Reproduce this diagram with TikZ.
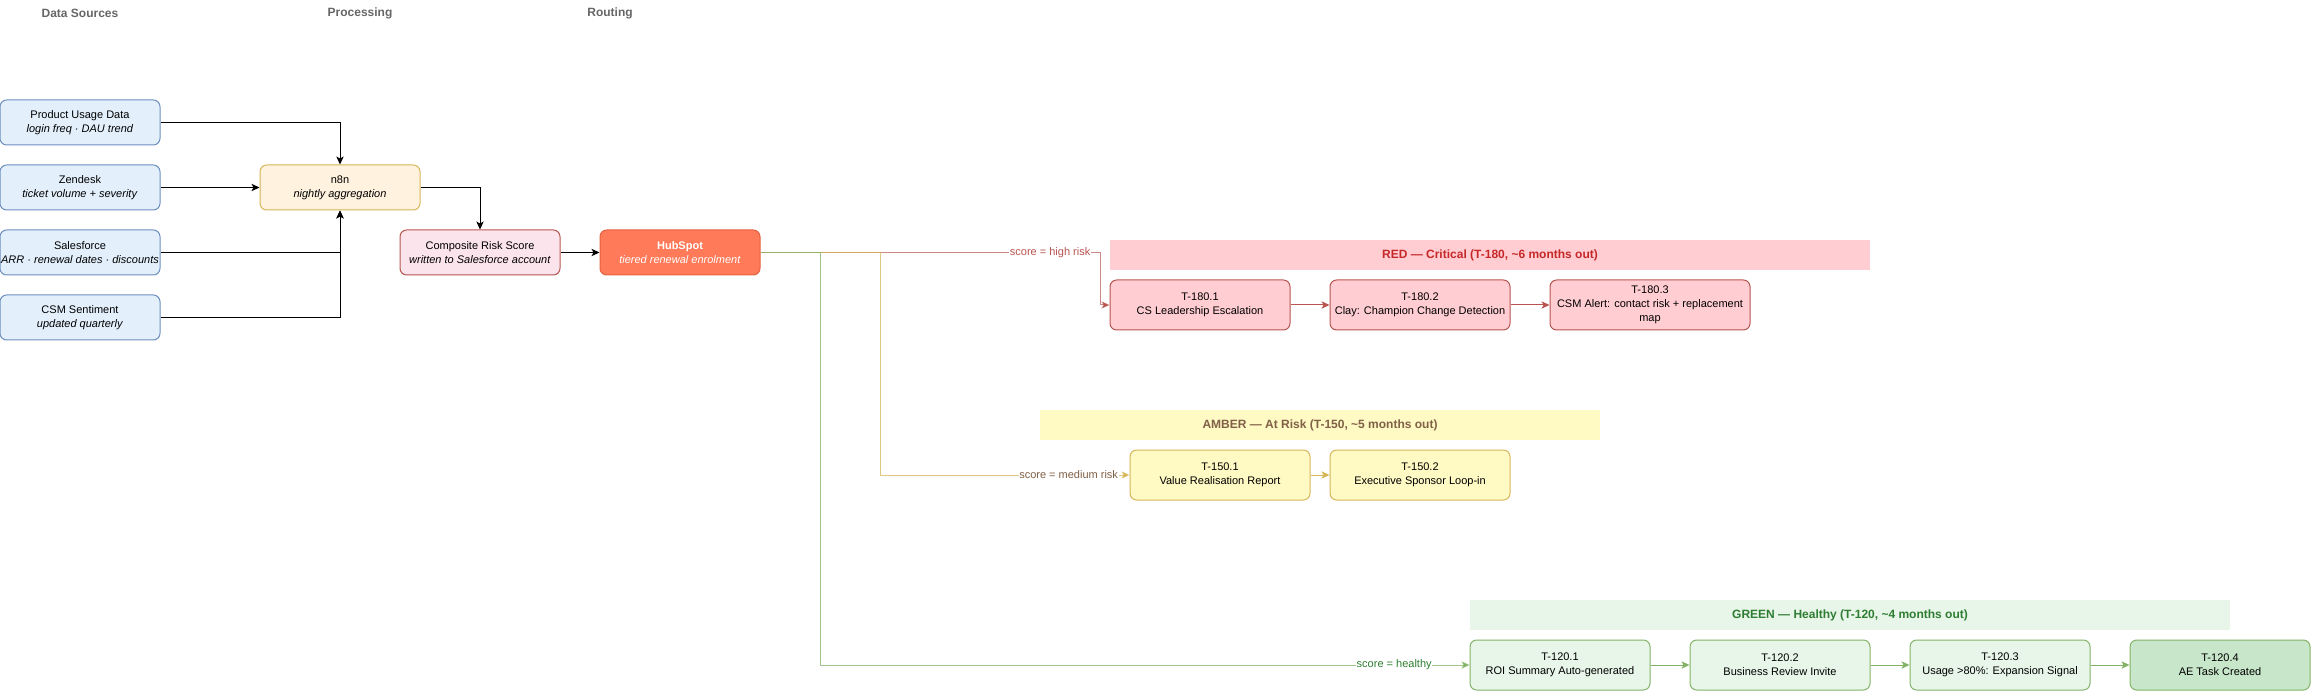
\documentclass[tikz,border=0pt]{standalone}
\usepackage{fontspec}
\setmainfont{Liberation Sans}
\usetikzlibrary{arrows.meta}

\definecolor{srcfill}{RGB}{227,240,252}
\definecolor{srcline}{RGB}{108,142,191}
\definecolor{procfill}{RGB}{255,242,222}
\definecolor{procline}{RGB}{214,182,86}
\definecolor{riskfill}{RGB}{252,228,236}
\definecolor{riskline}{RGB}{184,84,80}
\definecolor{hubfill}{RGB}{255,122,89}
\definecolor{hubline}{RGB}{230,98,62}
\definecolor{redfill}{RGB}{255,205,210}
\definecolor{redtext}{RGB}{198,40,40}
\definecolor{redline}{RGB}{184,84,80}
\definecolor{amberfill}{RGB}{255,249,196}
\definecolor{ambertext}{RGB}{128,96,70}
\definecolor{amberline}{RGB}{214,182,86}
\definecolor{greenfill}{RGB}{232,245,233}
\definecolor{greendark}{RGB}{200,230,201}
\definecolor{greentext}{RGB}{46,125,50}
\definecolor{greenline}{RGB}{130,179,102}
\definecolor{headgray}{RGB}{102,102,102}

\begin{document}
\begin{tikzpicture}[x=0.75pt,y=0.75pt,yscale=-1,xscale=1,
  every node/.style={font=\fontsize{8.25}{10.5}\selectfont, align=center, inner sep=0.75pt},
  box/.style={draw, rounded corners=5pt, line width=0.75pt, minimum width=120pt, minimum height=33.75pt},
  srcbox/.style={box, fill=srcfill, draw=srcline},
  tbox/.style={box, minimum width=135pt, minimum height=37.5pt},
  banner/.style={minimum height=22.5pt, font=\fontsize{9}{11}\selectfont\bfseries},
  header/.style={text=headgray, font=\fontsize{9}{11}\selectfont\bfseries},
  lbl/.style={fill=white, inner sep=0.5pt},
  arr/.style={line width=0.75pt, -{Stealth[length=6pt,width=5.5pt,inset=1.5pt]}}]
\useasboundingbox (0,0) rectangle (2311,691);

% Text Node
\node[header] (hsrc) at (80,13) {Data Sources};
% Text Node
\node[header] (hproc) at (360,13) {Processing};
% Text Node
\node[header] (hroute) at (610,13) {Routing};

%Shape: Rounded Rect
\node[srcbox] (usage) at (80,122.5) {Product Usage Data\\\textit{login freq · DAU trend}};
%Shape: Rounded Rect
\node[srcbox] (zendesk) at (80,187.5) {Zendesk\\\textit{ticket volume + severity}};
%Shape: Rounded Rect
\node[srcbox] (sfdc) at (80,252.5) {Salesforce\\\textit{ARR · renewal dates · discounts}};
%Shape: Rounded Rect
\node[srcbox] (csm) at (80,317.5) {CSM Sentiment\\\textit{updated quarterly}};

%Shape: Rounded Rect
\node[box, fill=procfill, draw=procline] (n8n) at (340,187.5) {n8n\\\textit{nightly aggregation}};
%Shape: Rounded Rect
\node[box, fill=riskfill, draw=riskline] (risk) at (480,252.5) {Composite Risk Score\\\textit{written to Salesforce account}};
%Shape: Rounded Rect
\node[box, fill=hubfill, draw=hubline, text=white] (hubspot) at (680,252.5) {\textbf{HubSpot}\\\textit{tiered renewal enrolment}};

%Shape: Rectangle
\node[banner, fill=redfill, text=redtext, minimum width=570pt] (redhead) at (1490,255) {RED — Critical (T-180, \textasciitilde6 months out)};
%Shape: Rounded Rect
\node[tbox, fill=redfill, draw=redline] (t180a) at (1200,305) {T-180.1\\CS Leadership Escalation};
%Shape: Rounded Rect
\node[tbox, fill=redfill, draw=redline] (t180b) at (1420,305) {T-180.2\\Clay: Champion Change Detection};
%Shape: Rounded Rect
\node[tbox, fill=redfill, draw=redline, minimum width=150pt] (t180c) at (1650,305) {T-180.3\\CSM Alert: contact risk + replacement\\map};

%Shape: Rectangle
\node[banner, fill=amberfill, text=ambertext, minimum width=420pt] (amberhead) at (1320,425) {AMBER — At Risk (T-150, \textasciitilde5 months out)};
%Shape: Rounded Rect
\node[tbox, fill=amberfill, draw=amberline] (t150a) at (1220,475) {T-150.1\\Value Realisation Report};
%Shape: Rounded Rect
\node[tbox, fill=amberfill, draw=amberline] (t150b) at (1420,475) {T-150.2\\Executive Sponsor Loop-in};

%Shape: Rectangle
\node[banner, fill=greenfill, text=greentext, minimum width=570pt] (greenhead) at (1850,615) {GREEN — Healthy (T-120, \textasciitilde4 months out)};
%Shape: Rounded Rect
\node[tbox, fill=greenfill, draw=greenline] (t120a) at (1560,665) {T-120.1\\ROI Summary Auto-generated};
%Shape: Rounded Rect
\node[tbox, fill=greenfill, draw=greenline] (t120b) at (1780,665) {T-120.2\\Business Review Invite};
%Shape: Rounded Rect
\node[tbox, fill=greenfill, draw=greenline] (t120c) at (2000,665) {T-120.3\\Usage >80\%: Expansion Signal};
%Shape: Rounded Rect
\node[tbox, fill=greendark, draw=greenline] (t120d) at (2220,665) {T-120.4\\AE Task Created};

% bend points of the routing lines
\coordinate (greenbend) at (820,252.5);
\coordinate (amberbend) at (880,252.5);
\coordinate (redbend) at (1100,252.5);

%Straight Lines
\draw[arr] (usage.east) -| (n8n.north);
\draw[arr] (zendesk) -- (n8n);
\draw[arr] (sfdc.east) -| (n8n.south);
\draw[arr] (csm.east) -| (n8n.south);
\draw[arr] (n8n.east) -| (risk.north);
\draw[arr] (risk) -- (hubspot);

%Straight Lines
\draw[arr, redline, draw opacity=0.7] (hubspot.east) -- node[pos=0.853, lbl, text=redline] {score = high risk} (redbend) |- (t180a.west);
\draw[arr, amberline, draw opacity=0.75] (hubspot.east) -- (amberbend) |- node[pos=0.878, lbl, text=ambertext] {score = medium risk} (t150a.west);
\draw[arr, greenline, draw opacity=0.75] (hubspot.east) -- (greenbend) |- node[pos=0.942, lbl, text=greentext] {score = healthy} (t120a.west);

%Straight Lines
\draw[arr, redline] (t180a) -- (t180b);
\draw[arr, redline] (t180b) -- (t180c);
\draw[arr, amberline] (t150a) -- (t150b);
\draw[arr, greenline] (t120a) -- (t120b);
\draw[arr, greenline] (t120b) -- (t120c);
\draw[arr, greenline] (t120c) -- (t120d);

\end{tikzpicture}
\end{document}
